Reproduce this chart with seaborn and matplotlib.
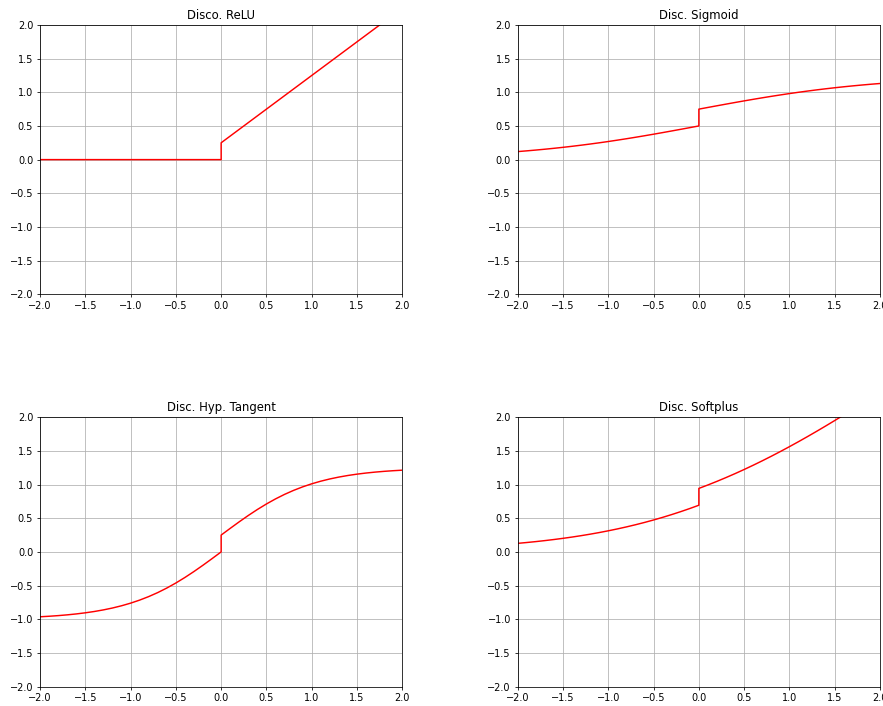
import matplotlib
matplotlib.use("Agg")
import matplotlib.pyplot as plt
import seaborn as sns
import pandas as pd

# Sample positions: left branch up to 0, right branch from 0 (jump at x = 0)
x_left = [-2.0, -1.9, -1.8, -1.7, -1.6, -1.5, -1.4, -1.3, -1.2, -1.1, -1.0,
          -0.9, -0.8, -0.7, -0.6, -0.5, -0.4, -0.3, -0.2, -0.1, 0.0]
x_right = [0.0, 0.1, 0.2, 0.3, 0.4, 0.5, 0.6, 0.7, 0.8, 0.9, 1.0,
           1.1, 1.2, 1.3, 1.4, 1.5, 1.6, 1.7, 1.8, 1.9, 2.0]

relu_left = [0.0] * 21
relu_right = [0.25, 0.35, 0.45, 0.55, 0.65, 0.75, 0.85, 0.95, 1.05, 1.15, 1.25,
              1.35, 1.45, 1.55, 1.65, 1.75, 1.85, 1.95, 2.05, 2.15, 2.25]

sigmoid_left = [0.1192, 0.1301, 0.1419, 0.1545, 0.1680, 0.1824, 0.1978, 0.2142,
                0.2315, 0.2497, 0.2689, 0.2891, 0.3100, 0.3318, 0.3543, 0.3775,
                0.4013, 0.4256, 0.4502, 0.4750, 0.5000]
sigmoid_right = [0.7500, 0.7750, 0.7998, 0.8244, 0.8487, 0.8725, 0.8957, 0.9182,
                 0.9400, 0.9609, 0.9811, 1.0003, 1.0185, 1.0358, 1.0522, 1.0676,
                 1.0820, 1.0955, 1.1081, 1.1199, 1.1308]

tanh_left = [-0.9640, -0.9562, -0.9468, -0.9354, -0.9217, -0.9051, -0.8854,
             -0.8617, -0.8337, -0.8005, -0.7616, -0.7163, -0.6640, -0.6044,
             -0.5370, -0.4621, -0.3799, -0.2913, -0.1974, -0.0997, 0.0]
tanh_right = [0.2500, 0.3497, 0.4474, 0.5413, 0.6299, 0.7121, 0.7870, 0.8544,
              0.9140, 0.9663, 1.0116, 1.0505, 1.0837, 1.1117, 1.1354, 1.1551,
              1.1717, 1.1854, 1.1968, 1.2062, 1.2140]

softplus_left = [0.1269, 0.1394, 0.1529, 0.1678, 0.1839, 0.2014, 0.2204, 0.2410,
                 0.2633, 0.2873, 0.3133, 0.3412, 0.3711, 0.4032, 0.4375, 0.4741,
                 0.5130, 0.5544, 0.5981, 0.6444, 0.6931]
softplus_right = [0.9431, 0.9944, 1.0481, 1.1044, 1.1630, 1.2241, 1.2875, 1.3532,
                  1.4211, 1.4912, 1.5633, 1.6373, 1.7133, 1.7910, 1.8704, 1.9514,
                  2.0339, 2.1178, 2.2029, 2.2894, 2.3769]

titles = ["Disco. ReLU", "Disc. Sigmoid", "Disc. Hyp. Tangent", "Disc. Softplus"]
series = [
    (relu_left, relu_right),
    (sigmoid_left, sigmoid_right),
    (tanh_left, tanh_right),
    (softplus_left, softplus_right),
]

fig, axes = plt.subplots(2, 2, figsize=(883 / 70, 706 / 70), dpi=70)
fig.subplots_adjust(left=0.0453, right=0.9966, top=0.9646, bottom=0.0276,
                    wspace=0.3185, hspace=0.457)

ticks = [-2.0, -1.5, -1.0, -0.5, 0.0, 0.5, 1.0, 1.5, 2.0]
for ax, title, (yl, yr) in zip(axes.flat, titles, series):
    df = pd.DataFrame({"x": x_left + x_right, "y": yl + yr})
    sns.lineplot(data=df, x="x", y="y", ax=ax, color="red",
                 sort=False, estimator=None)
    ax.set_xlim(-2, 2)
    ax.set_ylim(-2, 2)
    ax.set_xticks(ticks)
    ax.set_yticks(ticks)
    ax.set_xlabel("")
    ax.set_ylabel("")
    ax.grid(True)
    ax.set_title(title)

fig.savefig("out.png", dpi=70)
